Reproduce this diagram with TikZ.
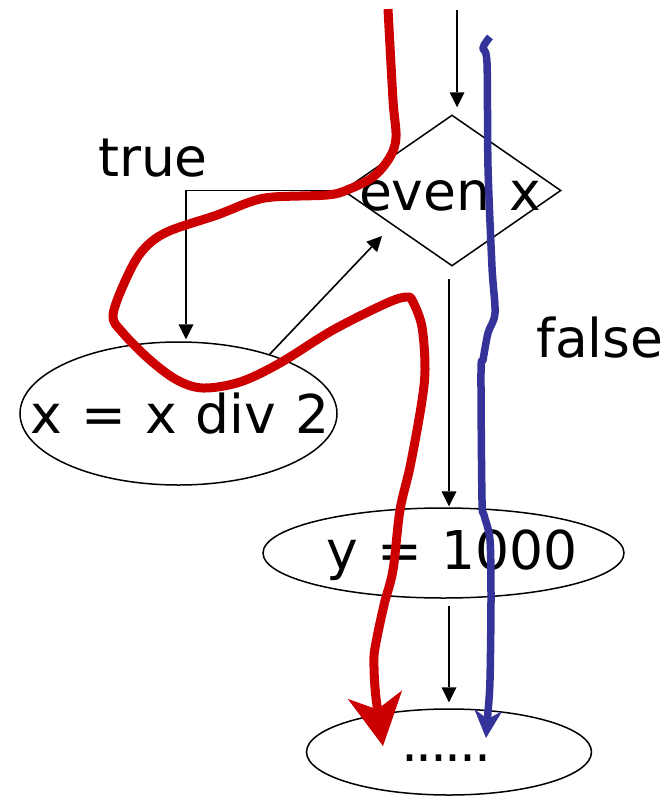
\documentclass[tikz,border=0pt]{standalone}
\usepackage{fontspec}
\setmainfont{DejaVu Sans}[WordSpace=1.11]
\usetikzlibrary{arrows.meta,shapes.geometric}
\definecolor{pathred}{HTML}{CC0000}
\definecolor{pathblue}{HTML}{333399}
\begin{document}
\begin{tikzpicture}[x=1pt,y=-1pt,
  lbl/.style={font=\fontsize{53.5pt}{60pt}\selectfont, inner sep=0pt, anchor=base},
  flow/.style={draw=black, line width=1.6pt, -{Triangle[length=15pt,width=15pt,line width=0pt]}},
  shapeline/.style={draw=black, line width=1.5pt, inner sep=0pt},
  redpath/.style={draw=pathred, line width=9pt, line join=round, -{Stealth[length=52pt,width=55pt,inset=15pt,line width=0pt]}},
  bluepath/.style={draw=pathblue, line width=7.5pt, line join=round, -{Stealth[length=28pt,width=28pt,inset=9pt,line width=0pt]}}
]
\useasboundingbox (0,0) rectangle (667,796);
% shapes
\node[shapeline, diamond, minimum width=218pt, minimum height=151pt] (d) at (452,190.5) {};
\node[shapeline, ellipse, minimum width=317pt, minimum height=143pt] (e1) at (178.5,413.5) {};
\node[shapeline, ellipse, minimum width=361pt, minimum height=90pt] (e2) at (443.5,553) {};
\node[shapeline, ellipse, minimum width=285pt, minimum height=86pt] (e3) at (449,752) {};
% texts
\node[lbl] (t1) at (450,210) {even x};
\node[lbl] (t2) at (180,433) {x = x div 2};
\node[lbl] (t3) at (452,569) {y = 1000};
\node[lbl] (t4) at (446,761) {\addfontfeature{LetterSpace=-4.5}......};
\node[lbl] (t5) at (153,176) {true};
\node[lbl] (t6) at (600,357) {false};
% connectors
\coordinate (src) at (457,10);
\coordinate (dg) at (382,236);
\draw[flow] (src) -- ([shift={(5,-7)}]d.north);
\draw[flow] (d.west) -| ([shift={(7.5,-2)}]e1.north);
\draw[flow] (e1.33.5) -- (dg);
\draw[flow] ([shift={(-3,12)}]d.south) -- ([shift={(5.5,-1)}]e2.north);
\draw[flow] ([shift={(5.5,7)}]e2.south) -- ([shift={(0,-6)}]e3.north);
% execution paths
\draw[redpath] plot[smooth, tension=0.55] coordinates {
  (388,9) (393,100) (396,137) (390,157) (373,177) (347,190) (327,195)
  (273,197) (250,202) (217,215) (167,232) (143,250) (127,277) (113,315)
  (123,333) (150,360) (177,380) (203,388) (240,382) (280,363) (333,330)
  (387,303) (407,297) (413,302) (422,327) (425,370) (421,407) (410,467)
  (400,510) (393,570) (384,605) (375,648) (374,667) (376,698) (383,746)};
\draw[bluepath] plot[smooth, tension=0.5] coordinates {
  (490,37) (483,48) (487,63) (488,167) (492,267) (495,313) (488,333)
  (483,360) (481,372) (482,500) (484,515) (490,540) (491,600) (490,680)
  (488,712) (486,738)};
\end{tikzpicture}
\end{document}
